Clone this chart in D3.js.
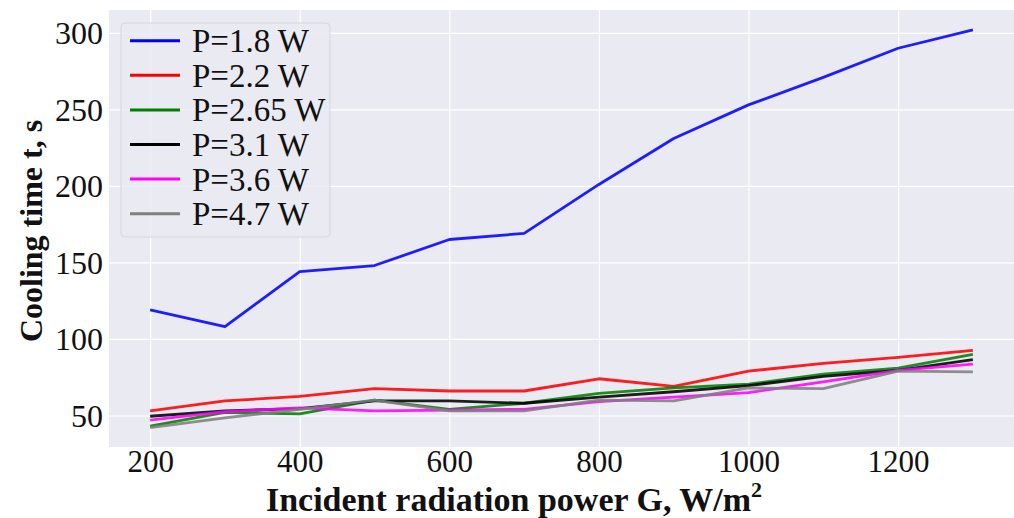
<!DOCTYPE html>
<html><head><meta charset="utf-8">
<script src="https://cdn.jsdelivr.net/npm/d3@7/dist/d3.min.js"></script>
<style>body{margin:0;background:#fff}svg{display:block}</style>
</head><body>
<svg id="c" width="1014" height="518"></svg>
<script>
const G = [200,300,400,500,600,700,800,900,1000,1100,1200,1300];
const labels = ["P=1.8 W","P=2.2 W","P=2.65 W","P=3.1 W","P=3.6 W","P=4.7 W"];
const colors = ["#0000ff","#ff0000","#008000","#000000","#ff00ff","#808080"];
const s18  = [119,108,144,148,165,169,201,231,253,271,290,302];
const s22  = [53,59.5,62.5,67.5,66,66,74,69,79,84,88,92.5];
const s265 = [43,52,51,60,54,58,64.5,68,70.5,77,81,90];
const s31  = [49.5,53,54.5,59.5,59.5,58,62,65.5,69.5,75.5,79.5,86.5];
const s36  = [47,52.5,55,53,53.5,54,59,62,65,72,79.5,83.5];
const s47  = [42,48.5,54,60,53,53,60,59.5,68,67.5,79,78.5];
const series = [s18,s22,s265,s31,s36,s47];
const xTicks = [200,400,600,800,1000,1200];
const yTicks = [50,100,150,200,250,300];

const svg = d3.select("#c");
const L=109, R=1014, T=10, B=447;
const x = d3.scaleLinear().domain([145,1355]).range([L,R]);
const y = d3.scaleLinear().domain([29.4,315]).range([B,T]);
const font = "'Liberation Serif','Times New Roman',serif";

svg.append("rect").attr("x",L).attr("y",T).attr("width",R-L).attr("height",B-T).attr("fill","#eaeaf2");
const gx = svg.append("g").attr("transform",`translate(0,${B})`)
  .call(d3.axisBottom(x).tickValues(xTicks).tickSize(-(B-T)).tickPadding(3).tickFormat(d3.format("d")));
const gy = svg.append("g").attr("transform",`translate(${L},0)`)
  .call(d3.axisLeft(y).tickValues(yTicks).tickSize(-(R-L)).tickPadding(6).tickFormat(d3.format("d")));
[gx,gy].forEach(g=>{
  g.select(".domain").remove();
  g.selectAll(".tick line").attr("stroke","#ffffff").attr("stroke-width",1.2);
  g.selectAll(".tick text").attr("fill","#111").style("font-family",font).style("font-size","32px");
});
gx.selectAll(".tick text").attr("dy","0.71em").style("font-size","31px");
gy.selectAll(".tick text").attr("dy","0.34em");

const line = d3.line().x((d,i)=>x(G[i])).y(d=>y(d));
svg.append("g").selectAll("path").data(series).join("path")
  .attr("d",d=>line(d)).attr("fill","none")
  .attr("stroke",(d,i)=>colors[i]).attr("stroke-width",2.8).attr("stroke-linejoin","round").attr("stroke-opacity",0.88);

// legend
const lg = svg.append("g");
lg.append("rect").attr("x",121).attr("y",23).attr("width",209).attr("height",214).attr("rx",4)
  .attr("fill","#eaeaf2").attr("fill-opacity",0.85).attr("stroke","#d6d6de").attr("stroke-width",1);
labels.forEach((t,i)=>{
  const cy = 40.7 + i*34.6;
  lg.append("line").attr("x1",130).attr("x2",180).attr("y1",cy).attr("y2",cy)
    .attr("stroke",colors[i]).attr("stroke-width",3);
  lg.append("text").attr("x",192).attr("y",cy).attr("dy","0.35em").text(t)
    .style("font-family",font).style("font-size","33px").attr("fill","#111");
});

// axis labels
const xl = svg.append("text").attr("x",514).attr("y",511).attr("text-anchor","middle")
  .style("font-family",font).style("font-size","34px").style("font-weight","bold").attr("fill","#111");
xl.append("tspan").text("Incident radiation power G, W/m");
xl.append("tspan").attr("dy","-14").style("font-size","22px").text("2");
svg.append("text").attr("transform","translate(42,231) rotate(-90)").attr("text-anchor","middle")
  .style("font-family",font).style("font-size","32px").style("font-weight","bold").attr("fill","#111")
  .text("Cooling time t, s");
</script>
</body></html>
